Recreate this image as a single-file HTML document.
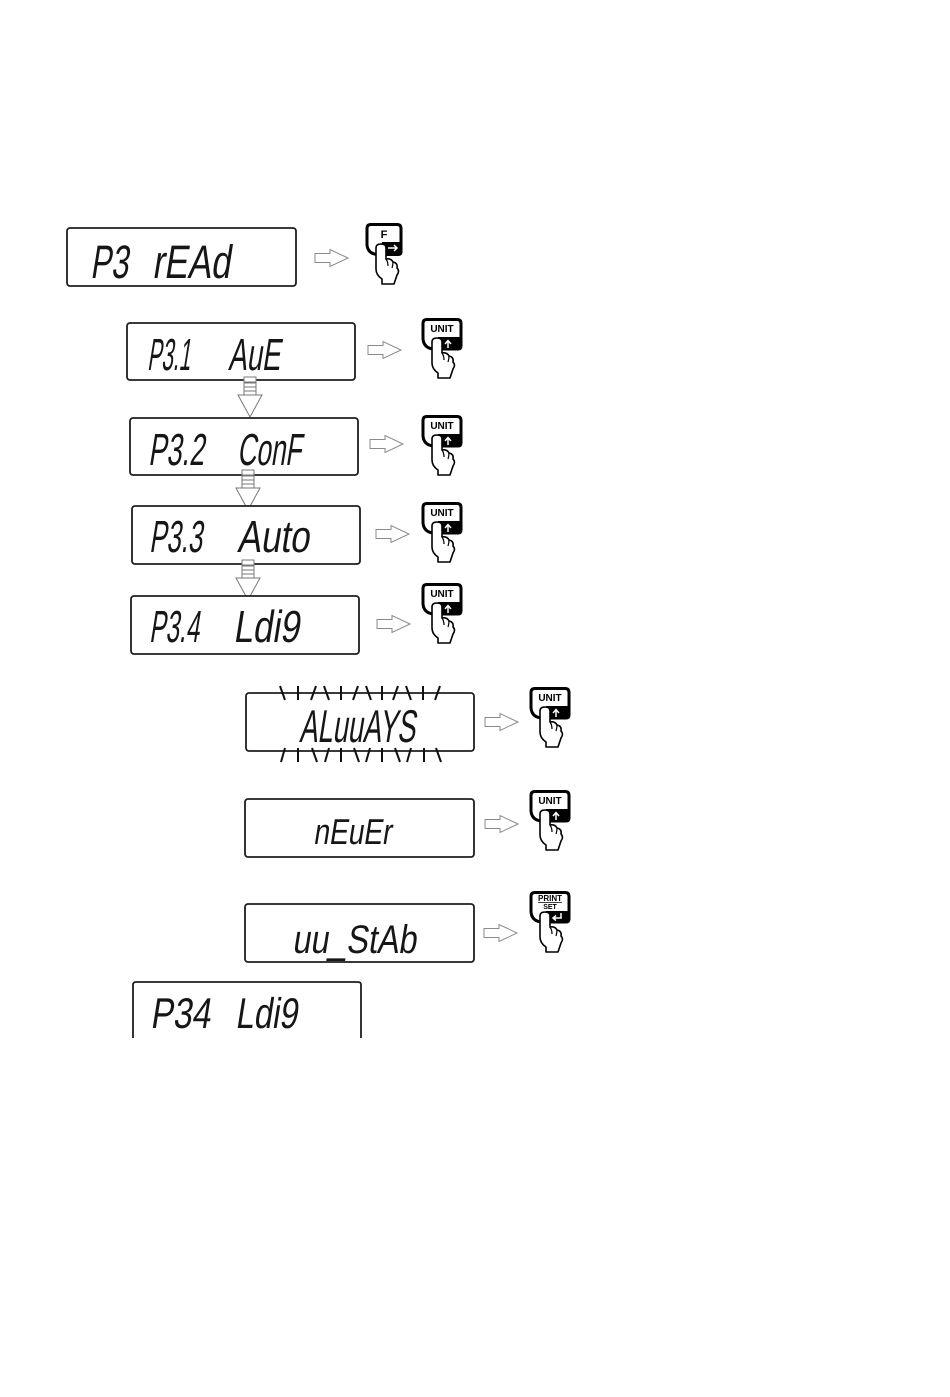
<!DOCTYPE html>
<html>
<head>
<meta charset="utf-8">
<style>
  html,body{margin:0;padding:0;background:#fff;}
  svg{display:block;}
  .lcd{font-family:"Liberation Sans Narrow","Liberation Sans",sans-serif;fill:#161616;}
  .box{fill:#fff;stroke:#1e1e1e;stroke-width:1.8;}
  .ra{fill:#fff;stroke:#8a8a8a;stroke-width:1;}
  .da{fill:#fff;stroke:#777;stroke-width:1;}
  .key{fill:#fff;stroke:#000;stroke-width:3;}
  .hand{fill:#fff;stroke:#000;stroke-width:1.6;stroke-linejoin:round;}
  .lbl{font-family:"Liberation Sans",sans-serif;font-weight:bold;fill:#000;}
  .fl{stroke:#111;stroke-width:2;}
</style>
</head>
<body>
<svg width="950" height="1397" viewBox="0 0 950 1397" xmlns="http://www.w3.org/2000/svg">
<rect width="950" height="1397" fill="#fff"/>

<defs>
  <g id="hand">
    <path class="hand" d="M10,42 V23 Q10,19 15,19 Q20,19 20,23 V34 Q25,33 27,37 Q32,38 31,43 Q34,46 31,50 L28,59 H16 L16,54 Q10,50 10,44 Z"/>
    <path d="M20,34 Q22,37 22,41 M27,37 Q27,40 26,43" fill="none" stroke="#000" stroke-width="1.2"/>
  </g>
  <g id="rarrow">
    <path class="ra" d="M0,-4.5 H15 V-8.5 L33,0 L15,8.5 V4.5 H0 Z"/>
  </g>
  <g id="darrow">
    <rect class="da" x="-6" y="0" width="12" height="5"/>
    <rect class="da" x="-6" y="6" width="12" height="12"/>
    <line x1="-6" y1="10" x2="6" y2="10" stroke="#777" stroke-width="1"/>
    <line x1="-6" y1="14" x2="6" y2="14" stroke="#777" stroke-width="1"/>
    <path class="da" d="M-12,18 H12 L0,40 Z"/>
  </g>
</defs>

<!-- Box 1 -->
<rect class="box" x="67" y="228" width="229" height="58" rx="3"/>
<g transform="translate(90,278) skewX(-9)"><text class="lcd" x="0" y="0" font-size="47" textLength="38" lengthAdjust="spacingAndGlyphs">P3</text></g>
<g transform="translate(152,278) skewX(-9)"><text class="lcd" x="0" y="0" font-size="47" textLength="78" lengthAdjust="spacingAndGlyphs">rEAd</text></g>
<use href="#rarrow" x="315" y="258"/>
<!-- F key -->
<g transform="translate(365,223)">
  <path class="key" d="M6,1.5 H32 Q36,1.5 36,5.5 V29 Q36,31.5 33,31.5 H14 Q3,31.5 2,22 V5.5 Q2,1.5 6,1.5 Z"/>
  <path d="M17,19 H36 V29 Q36,31.5 33,31.5 H15 Z" fill="#000"/>
  <text class="lbl" x="19" y="15" font-size="11" text-anchor="middle">F</text>
  <path d="M23,25 H32 M29,22 L32,25 L29,28" fill="none" stroke="#fff" stroke-width="1.5"/>
  <use href="#hand" x="1" y="2"/>
</g>

<!-- Box 2 -->
<rect class="box" x="127" y="323" width="228" height="57" rx="3"/>
<g transform="translate(147,370) skewX(-9)"><text class="lcd" x="0" y="0" font-size="45" textLength="43" lengthAdjust="spacingAndGlyphs">P3.1</text></g>
<g transform="translate(228,370) skewX(-9)"><text class="lcd" x="0" y="0" font-size="45" textLength="52" lengthAdjust="spacingAndGlyphs">AuE</text></g>
<use href="#rarrow" x="368" y="350"/>
<g transform="translate(421,318)">
  <path class="key" d="M6,1.5 H36 Q40,1.5 40,5.5 V28 Q40,31 37,31 H14 Q3,31 2,21 V5.5 Q2,1.5 6,1.5 Z"/>
  <path d="M17,19 H40 V28 Q40,31 37,31 H15 Z" fill="#000"/>
  <text class="lbl" x="21" y="14" font-size="10" text-anchor="middle">UNIT</text>
  <path d="M27,30 V22.5 M24,26 L27,22.5 L30,26" fill="none" stroke="#fff" stroke-width="1.5"/>
  <use href="#hand" x="1" y="1"/>
</g>

<use href="#darrow" x="250" y="377"/>

<!-- Box 3 -->
<rect class="box" x="130" y="418" width="228" height="57" rx="3"/>
<g transform="translate(148,465) skewX(-9)"><text class="lcd" x="0" y="0" font-size="45" textLength="56" lengthAdjust="spacingAndGlyphs">P3.2</text></g>
<g transform="translate(237,465) skewX(-9)"><text class="lcd" x="0" y="0" font-size="45" textLength="64" lengthAdjust="spacingAndGlyphs">ConF</text></g>
<use href="#rarrow" x="370" y="444"/>
<g transform="translate(421,415)">
  <path class="key" d="M6,1.5 H36 Q40,1.5 40,5.5 V28 Q40,31 37,31 H14 Q3,31 2,21 V5.5 Q2,1.5 6,1.5 Z"/>
  <path d="M17,19 H40 V28 Q40,31 37,31 H15 Z" fill="#000"/>
  <text class="lbl" x="21" y="14" font-size="10" text-anchor="middle">UNIT</text>
  <path d="M27,30 V22.5 M24,26 L27,22.5 L30,26" fill="none" stroke="#fff" stroke-width="1.5"/>
  <use href="#hand" x="1" y="1"/>
</g>

<use href="#darrow" x="248" y="470"/>

<!-- Box 4 -->
<rect class="box" x="132" y="506" width="228" height="58" rx="3"/>
<g transform="translate(149,552) skewX(-9)"><text class="lcd" x="0" y="0" font-size="45" textLength="53" lengthAdjust="spacingAndGlyphs">P3.3</text></g>
<g transform="translate(237,552) skewX(-9)"><text class="lcd" x="0" y="0" font-size="45" textLength="72" lengthAdjust="spacingAndGlyphs">Auto</text></g>
<use href="#rarrow" x="376" y="534"/>
<g transform="translate(421,502)">
  <path class="key" d="M6,1.5 H36 Q40,1.5 40,5.5 V28 Q40,31 37,31 H14 Q3,31 2,21 V5.5 Q2,1.5 6,1.5 Z"/>
  <path d="M17,19 H40 V28 Q40,31 37,31 H15 Z" fill="#000"/>
  <text class="lbl" x="21" y="14" font-size="10" text-anchor="middle">UNIT</text>
  <path d="M27,30 V22.5 M24,26 L27,22.5 L30,26" fill="none" stroke="#fff" stroke-width="1.5"/>
  <use href="#hand" x="1" y="1"/>
</g>

<use href="#darrow" x="248" y="560"/>

<!-- Box 5 -->
<rect class="box" x="131" y="596" width="228" height="58" rx="3"/>
<g transform="translate(149,642) skewX(-9)"><text class="lcd" x="0" y="0" font-size="45" textLength="50" lengthAdjust="spacingAndGlyphs">P3.4</text></g>
<g transform="translate(233,642) skewX(-9)"><text class="lcd" x="0" y="0" font-size="45" textLength="66" lengthAdjust="spacingAndGlyphs">Ldi9</text></g>
<use href="#rarrow" x="377" y="624"/>
<g transform="translate(421,583)">
  <path class="key" d="M6,1.5 H36 Q40,1.5 40,5.5 V28 Q40,31 37,31 H14 Q3,31 2,21 V5.5 Q2,1.5 6,1.5 Z"/>
  <path d="M17,19 H40 V28 Q40,31 37,31 H15 Z" fill="#000"/>
  <text class="lbl" x="21" y="14" font-size="10" text-anchor="middle">UNIT</text>
  <path d="M27,30 V22.5 M24,26 L27,22.5 L30,26" fill="none" stroke="#fff" stroke-width="1.5"/>
  <use href="#hand" x="1" y="1"/>
</g>

<!-- Box 6 (flashing) -->
<rect class="box" x="246" y="693" width="228" height="58" rx="3"/>
<g class="fl">
  <line x1="280" y1="686" x2="285" y2="700"/>
  <line x1="298" y1="686" x2="298" y2="700"/>
  <line x1="316" y1="686" x2="311" y2="700"/>
  <line x1="324" y1="686" x2="329" y2="700"/>
  <line x1="341" y1="686" x2="341" y2="700"/>
  <line x1="358" y1="686" x2="353" y2="700"/>
  <line x1="366" y1="686" x2="371" y2="700"/>
  <line x1="382" y1="686" x2="382" y2="700"/>
  <line x1="398" y1="686" x2="393" y2="700"/>
  <line x1="406" y1="686" x2="411" y2="700"/>
  <line x1="423" y1="686" x2="423" y2="700"/>
  <line x1="440" y1="686" x2="435" y2="700"/>

  <line x1="285" y1="748" x2="281" y2="762"/>
  <line x1="298" y1="748" x2="298" y2="762"/>
  <line x1="312" y1="748" x2="317" y2="762"/>
  <line x1="329" y1="748" x2="325" y2="762"/>
  <line x1="341" y1="748" x2="341" y2="762"/>
  <line x1="354" y1="748" x2="359" y2="762"/>
  <line x1="370" y1="748" x2="366" y2="762"/>
  <line x1="382" y1="748" x2="382" y2="762"/>
  <line x1="395" y1="748" x2="400" y2="762"/>
  <line x1="411" y1="748" x2="407" y2="762"/>
  <line x1="424" y1="748" x2="424" y2="762"/>
  <line x1="436" y1="748" x2="441" y2="762"/>
</g>
<g transform="translate(299,742) skewX(-9)"><text class="lcd" x="0" y="0" font-size="46" textLength="116" lengthAdjust="spacingAndGlyphs">ALuuAYS</text></g>
<use href="#rarrow" x="485" y="722"/>
<g transform="translate(529,687)">
  <path class="key" d="M6,1.5 H36 Q40,1.5 40,5.5 V28 Q40,31 37,31 H14 Q3,31 2,21 V5.5 Q2,1.5 6,1.5 Z"/>
  <path d="M17,19 H40 V28 Q40,31 37,31 H15 Z" fill="#000"/>
  <text class="lbl" x="21" y="14" font-size="10" text-anchor="middle">UNIT</text>
  <path d="M27,30 V22.5 M24,26 L27,22.5 L30,26" fill="none" stroke="#fff" stroke-width="1.5"/>
  <use href="#hand" x="1" y="1"/>
</g>

<!-- Box 7 -->
<rect class="box" x="245" y="799" width="229" height="58" rx="3"/>
<g transform="translate(313,844) skewX(-9)"><text class="lcd" x="0" y="0" font-size="36" textLength="78" lengthAdjust="spacingAndGlyphs">nEuEr</text></g>
<use href="#rarrow" x="485" y="824"/>
<g transform="translate(529,790)">
  <path class="key" d="M6,1.5 H36 Q40,1.5 40,5.5 V28 Q40,31 37,31 H14 Q3,31 2,21 V5.5 Q2,1.5 6,1.5 Z"/>
  <path d="M17,19 H40 V28 Q40,31 37,31 H15 Z" fill="#000"/>
  <text class="lbl" x="21" y="14" font-size="10" text-anchor="middle">UNIT</text>
  <path d="M27,30 V22.5 M24,26 L27,22.5 L30,26" fill="none" stroke="#fff" stroke-width="1.5"/>
  <use href="#hand" x="1" y="1"/>
</g>

<!-- Box 8 -->
<rect class="box" x="245" y="904" width="229" height="58" rx="3"/>
<g transform="translate(292,953) skewX(-9)"><text class="lcd" x="0" y="0" font-size="40" textLength="124" lengthAdjust="spacingAndGlyphs">uu_StAb</text></g>
<use href="#rarrow" x="484" y="933"/>
<g transform="translate(529,891)">
  <path class="key" d="M6,1.5 H36 Q40,1.5 40,5.5 V28 Q40,31 37,31 H14 Q3,31 2,21 V5.5 Q2,1.5 6,1.5 Z"/>
  <path d="M17,20 H40 V28 Q40,31 37,31 H15 Z" fill="#000"/>
  <text class="lbl" x="21" y="10" font-size="8" text-anchor="middle">PRINT</text>
  <line x1="9" y1="11.5" x2="33" y2="11.5" stroke="#000" stroke-width="0.8"/>
  <text class="lbl" x="21" y="18" font-size="7" text-anchor="middle">SET</text>
  <path d="M32,22 V27 H24 M27,24.5 L24,27 L27,29.5" fill="none" stroke="#fff" stroke-width="1.5"/>
  <use href="#hand" x="1" y="2"/>
</g>

<!-- Box 9 (cut at bottom) -->
<path d="M133,1038 V985 Q133,982 136,982 H358 Q361,982 361,985 V1038" fill="#fff" stroke="#1e1e1e" stroke-width="1.8"/>
<g transform="translate(150,1028) skewX(-9)"><text class="lcd" x="0" y="0" font-size="43" textLength="60" lengthAdjust="spacingAndGlyphs">P34</text></g>
<g transform="translate(235,1028) skewX(-9)"><text class="lcd" x="0" y="0" font-size="43" textLength="62" lengthAdjust="spacingAndGlyphs">Ldi9</text></g>

</svg>
</body>
</html>
